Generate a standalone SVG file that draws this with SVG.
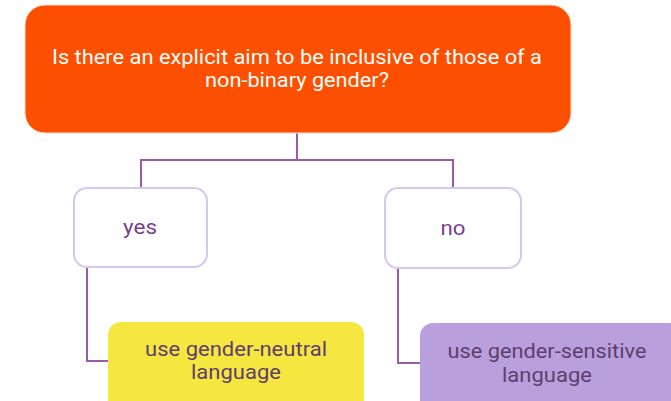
<svg xmlns="http://www.w3.org/2000/svg" width="671" height="401" viewBox="0 0 671 401">
<style>
text{font-family:Roboto,"Liberation Sans",sans-serif;text-anchor:middle;dominant-baseline:central;font-size:21px}
.q{fill:#ffffff}
.l{fill:#7a3f8c}
.r{fill:#5e3e6e}
.c{fill:none;stroke:#9a5aa8;stroke-width:2}
.opt{fill:#ffffff;stroke:#d9c6ef;stroke-width:2}
</style>
<rect width="671" height="401" fill="#ffffff"/>
<g id="connectors">
<path class="c" d="M297 133 V160 M141 160 H453 M141 159 V188 M453 159 V188"/>
<path class="c" d="M87 267 V361 H109"/>
<path class="c" d="M398 268 V363 H421"/>
</g>
<g id="question">
<rect x="25" y="5" width="546" height="128" rx="20" fill="#fd4f00" stroke="#ffd9c8" stroke-width="1"/>
<text class="q" x="297" y="57" textLength="490" lengthAdjust="spacingAndGlyphs">Is there an explicit aim to be inclusive of those of a</text>
<text class="q" x="297" y="80" textLength="184" lengthAdjust="spacingAndGlyphs">non-binary gender?</text>
</g>
<g id="yes">
<rect class="opt" x="74" y="188" width="133" height="79" rx="13"/>
<text class="l" x="140" y="227" textLength="34" lengthAdjust="spacingAndGlyphs">yes</text>
</g>
<g id="no">
<rect class="opt" x="385" y="188" width="136" height="80" rx="13"/>
<text class="l" x="453" y="228" textLength="25" lengthAdjust="spacingAndGlyphs">no</text>
</g>
<g id="neutral">
<rect x="108" y="322" width="256" height="95" rx="13" fill="#f6e640"/>
<text class="r" x="236" y="349" textLength="182" lengthAdjust="spacingAndGlyphs">use gender-neutral</text>
<text class="r" x="236" y="372" textLength="90" lengthAdjust="spacingAndGlyphs">language</text>
</g>
<g id="sensitive">
<rect x="420" y="323" width="262" height="95" rx="13" fill="#b9a0dd"/>
<text class="r" x="547" y="351" textLength="199" lengthAdjust="spacingAndGlyphs">use gender-sensitive</text>
<text class="r" x="547" y="375" textLength="90" lengthAdjust="spacingAndGlyphs">language</text>
</g>
</svg>
